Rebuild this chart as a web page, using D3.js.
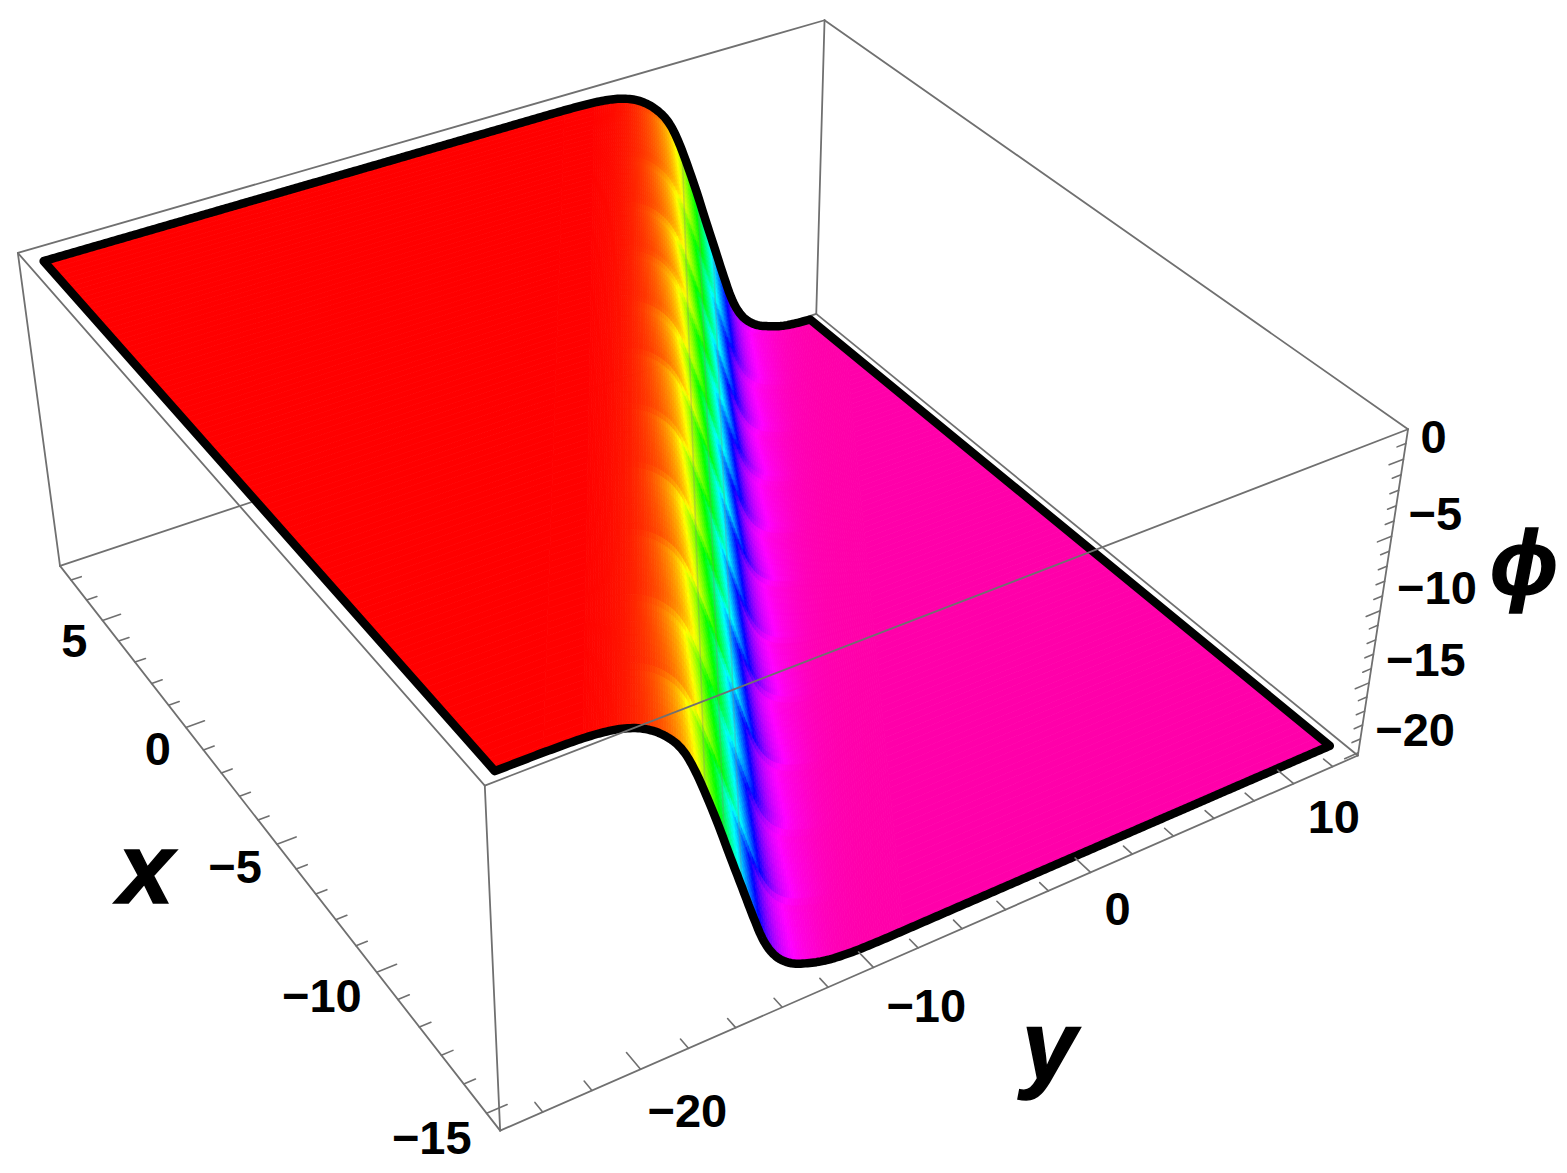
<!DOCTYPE html>
<html>
<head>
<meta charset="utf-8">
<script src="https://cdnjs.cloudflare.com/ajax/libs/d3/7.8.5/d3.min.js"></script>
<style>
body { margin: 0; background: #fff; }
svg { display: block; }
.box, .tick { stroke: #707070; fill: none; stroke-linecap: round; }
.box { stroke-width: 1.8; }
.tick { stroke-width: 1.6; }
.lab { font: bold 47px "Liberation Sans", Arial, sans-serif; fill: #000; }
.axlab { font: italic bold 100px "Liberation Sans", Arial, sans-serif; fill: #000; stroke: #000; stroke-width: 1.5; }
</style>
</head>
<body>
<script>
const W = 1567, H = 1173;

const xRange = [-15.58, 7.72];
const yRange = [-25.7, 13.3];
const phiRange = [-20.2, 1.9];
const xExtent = [-15.1, 7.32];
const yExtent = [-24.9, 12.5];

const uValues = [-40, -8, -6.5, -5.5, -4.7, -4, -3.4, -2.9, -2.5, -2.2, -1.85, -1.5, -1, -0.5, 0, 0.5, 1, 1.5, 2, 2.6, 3.5, 4.7, 6, 40];
const phiValues = [1.5, 1.45, 1.4, 1.25, 0.95, 0.45, -0.25, -1.05, -1.9, -3, -4.5, -5.9, -8.2, -10.7, -12.8, -15.4, -17.2, -18.1, -18.75, -19.1, -19.55, -19.75, -19.8, -19.8];

const xTickLabels = [5, 0, -5, -10, -15];
const yTickLabels = [-20, -10, 0, 10];
const phiTickLabels = [0, -5, -10, -15, -20];

// mesh teeth seen along the colour band
const bandTeethX = [-15.1, -13.2, -11.1, -9.2, -7, -5, -3, -1.1, 0.9, 2.9, 4.9, 7.32];
const bandTeethAmp = [0.22, 0.26, 0.2, 0.28, 0.24, 0.2, 0.27, 0.22, 0.26, 0.2, 0.18];
const bandStreaksU = [[-1.75, -2.0], [-0.95, -1.15], [-0.2, -0.35]];
const bandColorLag = 0.15;

// screen corners of the box, x/y/phi as 0 or 1
const boxCorners = [
    [1, 0, 1, 18, 253], [1, 0, 0, 60, 566], [0, 0, 1, 484, 785], [0, 0, 0, 500.7, 1131],
    [0, 1, 1, 1408, 430], [0, 1, 0, 1358, 755], [1, 1, 1, 825, 20], [1, 1, 0, 815.7, 314]
];

const nx = d3.scaleLinear().domain(xRange).range([0, 1]);
const ny = d3.scaleLinear().domain(yRange).range([0, 1]);
const nz = d3.scaleLinear().domain(phiRange).range([0, 1]);
const profileLine = d3.scaleLinear().domain(uValues).range(phiValues);
const profile = u => d3.mean([-0.4, -0.2, 0, 0.2, 0.4], d => profileLine(u + d));
const hue = d3.scaleLinear().domain([1.45, -19.8]).range([0, 320]).clamp(true);

function solve(A, b) {
    const n = b.length;
    A = A.map((r, i) => [...r, b[i]]);
    for (let i = 0; i < n; i++) {
        let m = i;
        for (let k = i; k < n; k++) if (Math.abs(A[k][i]) > Math.abs(A[m][i])) m = k;
        [A[i], A[m]] = [A[m], A[i]];
        for (let k = 0; k < n; k++) {
            if (k == i) continue;
            const f = A[k][i] / A[i][i];
            for (let j = i; j <= n; j++) A[k][j] -= f * A[i][j];
        }
    }
    return A.map((r, i) => r[n] / r[i]);
}

// least squares camera from the box corners
const rows = [], rhs = [];
boxCorners.forEach(([a, b, c, u, v]) => {
    rows.push([a, b, c, 1, 0, 0, 0, 0, -u * a, -u * b, -u * c]); rhs.push(u);
    rows.push([0, 0, 0, 0, a, b, c, 1, -v * a, -v * b, -v * c]); rhs.push(v);
});
const cam = solve(
    d3.range(11).map(i => d3.range(11).map(j => d3.sum(rows, r => r[i] * r[j]))),
    d3.range(11).map(i => d3.sum(rows, (r, k) => r[i] * rhs[k]))
);
cam.push(1);

function proj(x, y, z) {
    const a = nx(x), b = ny(y), c = nz(z);
    const w = cam[8] * a + cam[9] * b + cam[10] * c + cam[11];
    return [(cam[0] * a + cam[1] * b + cam[2] * c + cam[3]) / w, (cam[4] * a + cam[5] * b + cam[6] * c + cam[7]) / w];
}

const svg = d3.select("body").append("svg").attr("width", W).attr("height", H);
const line = d3.line();

const [x0, x1] = xRange, [y0, y1] = yRange, [z0, z1] = phiRange;

function boxEdges(g, edges) {
    g.selectAll("path").data(edges).enter().append("path")
        .attr("class", "box")
        .attr("d", e => line([proj(...e[0]), proj(...e[1])]));
}

// back of the box goes under the surface
boxEdges(svg.append("g"), [
    [[x1, y0, z0], [x1, y1, z0]], [[x1, y1, z0], [x0, y1, z0]], [[x1, y1, z0], [x1, y1, z1]],
    [[x1, y0, z1], [x1, y1, z1]], [[x1, y1, z1], [x0, y1, z1]], [[x1, y0, z1], [x0, y0, z1]],
    [[x1, y0, z0], [x1, y0, z1]]
]);

// surface cells
const xStep = 0.2;
const xRows = d3.range(xExtent[0], xExtent[1], xStep).concat([xExtent[1]]).reverse();
const uEdges = [-40, -8].concat(d3.range(-6.5, 7, 0.1), [7, 40]);
const clampY = y => Math.max(yExtent[0], Math.min(yExtent[1], y));

// teeth climb for most of their length, then drop back softly
const toothShape = d3.scaleLinear().domain([0, 0.8, 1]).range([-1, 1, -1]);
const shiftFade = d3.scaleLinear().domain([-5, -3.2, 2.2, 4.5]).range([0, 1, 1, 0]).clamp(true);

function bandShift(x, u) {
    const i = Math.max(0, Math.min(bandTeethAmp.length - 1, d3.bisectRight(bandTeethX, x) - 1));
    const f = (x - bandTeethX[i]) / (bandTeethX[i + 1] - bandTeethX[i]);
    return bandTeethAmp[i] * toothShape(f) * shiftFade(u);
}

const cells = [];
for (let r = 0; r < xRows.length - 1; r++) {
    const xa = xRows[r], xb = xRows[r + 1];
    for (let c = 0; c < uEdges.length - 1; c++) {
        const ua = uEdges[c], ub = uEdges[c + 1];
        const q = [[xa, ua], [xb, ua], [xb, ub], [xa, ub]].map(([x, u]) => [x, clampY(x + u)]);
        if (q[0][1] == q[3][1] && q[1][1] == q[2][1]) continue;
        cells.push({ q, xm: (xa + xb) / 2, um: (ua + ub) / 2 });
    }
}

const cellColor = d => {
    const z = profile(d.um - bandColorLag + bandShift(d.xm, d.um));
    return d3.hsl(hue(z), 1, 0.5).formatRgb();
};

svg.append("g").selectAll("path").data(cells).enter().append("path")
    .attr("d", d => line(d.q.map(([x, y]) => proj(x, y, profile(y - x)))) + "Z")
    .attr("fill", cellColor)
    .attr("stroke", cellColor)
    .attr("stroke-width", 0.8);

// grey streaks inside the band
const streakXs = d3.range(xExtent[0], xExtent[1] + 0.1, 0.5);
svg.append("g").selectAll("path").data(bandStreaksU).enter().append("path")
    .attr("d", s => {
        const us = d3.scaleLinear().domain(xExtent).range(s);
        return line(streakXs.map(x => proj(x, x + us(x), profile(us(x)))));
    })
    .attr("fill", "none")
    .attr("stroke", "#808080")
    .attr("stroke-opacity", 0.3)
    .attr("stroke-width", 1.6);

// black outline of the surface
const yEdge = d3.range(yExtent[0], yExtent[1], 0.1).concat([yExtent[1]]);
const outline = [
    ...yEdge.map(y => [xExtent[1], y]),
    ...yEdge.slice().reverse().map(y => [xExtent[0], y])
].map(([x, y]) => proj(x, y, profile(y - x)));
svg.append("path")
    .attr("d", line(outline) + "Z")
    .attr("fill", "none")
    .attr("stroke", "#000")
    .attr("stroke-width", 8.5)
    .attr("stroke-linejoin", "round");

// front of the box goes over it
boxEdges(svg.append("g"), [
    [[x0, y0, z1], [x0, y1, z1]], [[x0, y0, z0], [x0, y1, z0]], [[x0, y0, z0], [x1, y0, z0]],
    [[x0, y0, z0], [x0, y0, z1]], [[x0, y1, z0], [x0, y1, z1]]
]);

// ticks
const tickLine = (from, to) => line([proj(...from), proj(...to)]);
const ticks = svg.append("g");
function addTicks(values, major, fn) {
    ticks.append("g").selectAll("path").data(values).enter().append("path")
        .attr("class", "tick").attr("d", v => fn(v, major.includes(v)));
}
const dy = y1 - y0, dx = x1 - x0;
addTicks(d3.range(-15, 8), xTickLabels, (v, m) =>
    tickLine([v, y0, z0], [v, y0 + dy * (m ? 0.021 : 0.012), z0]));
addTicks(d3.range(-24, 14, 2), yTickLabels, (v, m) =>
    tickLine([x0, v, z0], [x0 + dx * (m ? 0.025 : 0.014), v, z0]));
addTicks(d3.range(-20, 2), phiTickLabels, (v, m) =>
    tickLine([x0, y1, v], [x0, y1 - dy * (m ? 0.018 : 0.011), v]));

// tick labels
const fmt = v => String(v).replace("-", "\u2212");
const labels = svg.append("g");
function addLabels(values, anchor, pos) {
    labels.append("g").selectAll("text").data(values).enter().append("text")
        .attr("class", "lab")
        .attr("text-anchor", anchor)
        .attr("dominant-baseline", "central")
        .attr("x", v => pos(v)[0])
        .attr("y", v => pos(v)[1])
        .text(fmt);
}
const xLabDy = d3.scaleLinear().domain([5, -15]).range([20, 24]);
const yLabDx = d3.scaleLinear().domain([-20, -10, 0, 10]).range([7, 13, 14, 14]);
const yLabDy = d3.scaleLinear().domain([-20, 10]).range([41, 33]);
addLabels(xTickLabels, "end", v => {
    const p = proj(v, y0, z0);
    return [p[0] - 15, p[1] + xLabDy(v)];
});
addLabels(yTickLabels, "start", v => {
    const p = proj(x0, v, z0);
    return [p[0] + yLabDx(v), p[1] + yLabDy(v)];
});
addLabels(phiTickLabels, "start", v => {
    const p = proj(x0, y1, v);
    return [p[0] + 17, p[1] - 23];
});

// axis labels
svg.append("text").attr("class", "axlab").attr("x", 118).attr("y", 903).text("x");
svg.append("text").attr("class", "axlab").attr("x", 1022).attr("y", 1080).style("font-size", "98px").text("y");
svg.append("text").attr("class", "axlab").attr("x", 1490).attr("y", 594).style("font-size", "90px").text("\u03d5");
</script>
</body>
</html>
